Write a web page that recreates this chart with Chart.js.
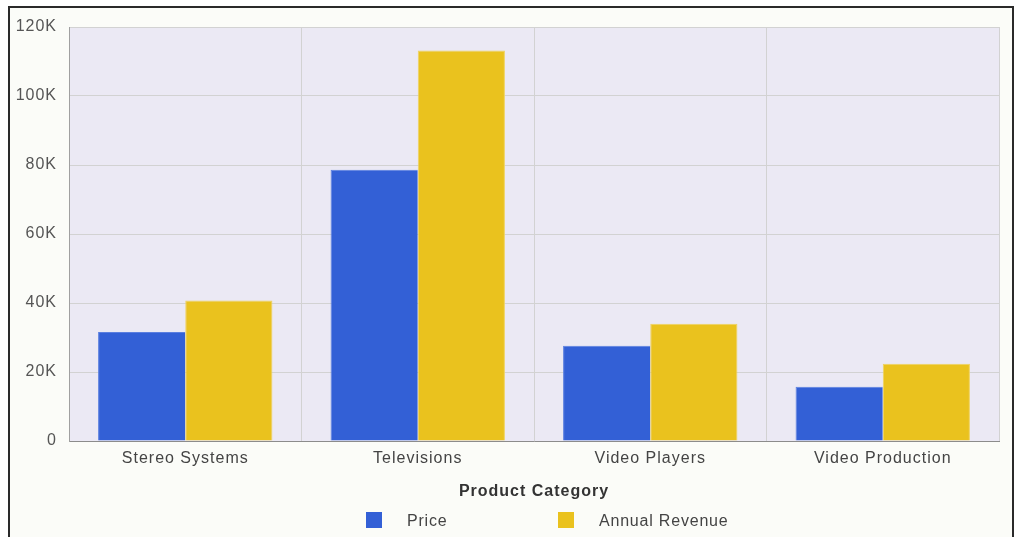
<!DOCTYPE html>
<html>
<head>
<meta charset="utf-8">
<script src="https://cdn.jsdelivr.net/npm/chart.js@4/dist/chart.umd.min.js"></script>
<style>
    html, body { margin: 0; padding: 0; background: #ffffff; }
    #chartBox { width: 1022px; height: 537px; }
</style>
</head>
<body>
<div id="chartBox"><canvas id="salesChart" width="1022" height="537"></canvas></div>
<script>
const categories = ["Stereo Systems", "Televisions", "Video Players", "Video Production"];
const priceValues = [31600, 78600, 27600, 15700];
const revenueValues = [40700, 113200, 34000, 22400];
const seriesNames = ["Price", "Annual Revenue"];
const yMax = 120000;
const yStep = 20000;

const BLUE = "#3360d6";
const YELLOW = "#eac21e";
const FONT = "'Liberation Sans', Arial, sans-serif";

// letter spacing to mimic the wide rendering of the original
const spacingPlugin = {
    id: "spacing",
    beforeUpdate: function (chart) { chart.ctx.letterSpacing = "1px"; },
    beforeDraw: function (chart) { chart.ctx.letterSpacing = "1px"; }
};

const framePlugin = {
    id: "frame",
    beforeDraw: function (chart) {
        const ctx = chart.ctx;
        const area = chart.chartArea;
        ctx.save();
        ctx.fillStyle = "#fbfcf8";
        ctx.fillRect(9, 7, 1004, 540);
        ctx.strokeStyle = "#2a2a2a";
        ctx.lineWidth = 2;
        ctx.strokeRect(9, 7, 1004, 540);
        ctx.fillStyle = "#ebe9f4";
        ctx.fillRect(area.left, area.top, area.right - area.left, area.bottom - area.top);
        ctx.restore();
    }
};

const legendPlugin = {
    id: "bottomLegend",
    afterDraw: function (chart) {
        const ctx = chart.ctx;
        const y = 520;
        const startX = 366;
        const step = 192;
        ctx.save();
        ctx.font = "16px " + FONT;
        ctx.letterSpacing = "0.8px";
        ctx.textBaseline = "middle";
        ctx.textAlign = "left";
        chart.data.datasets.forEach(function (ds, i) {
            const x = startX + i * step;
            ctx.fillStyle = ds.backgroundColor;
            ctx.fillRect(x, y - 8, 16, 16);
            ctx.fillStyle = "#444444";
            ctx.fillText(ds.label, x + 41, y + 2);
        });
        ctx.restore();
    }
};

new Chart(document.getElementById("salesChart"), {
    type: "bar",
    data: {
        labels: categories,
        datasets: [
            {
                label: seriesNames[0],
                data: priceValues,
                backgroundColor: BLUE,
                borderColor: "#5a7fe0",
                borderWidth: { top: 1, left: 1, right: 0, bottom: 0 }
            },
            {
                label: seriesNames[1],
                data: revenueValues,
                backgroundColor: YELLOW,
                borderColor: "#f0d35e",
                borderWidth: { top: 1, left: 1, right: 1, bottom: 0 }
            }
        ]
    },
    options: {
        responsive: false,
        animation: false,
        layout: {
            padding: { left: 0, right: 23, top: 27, bottom: 36 }
        },
        datasets: {
            bar: {
                categoryPercentage: 0.75,
                barPercentage: 1
            }
        },
        plugins: {
            legend: { display: false },
            tooltip: { enabled: false }
        },
        scales: {
            x: {
                afterFit: function (scale) { scale.height = 60; },
                grid: {
                    color: "#d2d2d2",
                    lineWidth: 1,
                    drawTicks: false,
                    offset: true
                },
                border: { color: "#8c8c8c", width: 1 },
                ticks: {
                    padding: 8,
                    color: "#444444",
                    font: { family: FONT, size: 16 }
                },
                title: {
                    display: true,
                    text: "Product Category",
                    color: "#333333",
                    padding: { top: 0, bottom: 0 },
                    font: { family: FONT, size: 16, weight: "bold" }
                }
            },
            y: {
                min: 0,
                max: yMax,
                afterFit: function (scale) { scale.width = 69; },
                grid: {
                    color: "#d2d2d2",
                    lineWidth: 1,
                    drawTicks: false
                },
                border: { color: "#a0a0a0", width: 1 },
                ticks: {
                    stepSize: yStep,
                    padding: 12,
                    color: "#555555",
                    font: { family: FONT, size: 16 },
                    callback: function (value) {
                        return value === 0 ? "0" : (value / 1000) + "K";
                    }
                }
            }
        }
    },
    plugins: [spacingPlugin, framePlugin, legendPlugin]
});
</script>
</body>
</html>
